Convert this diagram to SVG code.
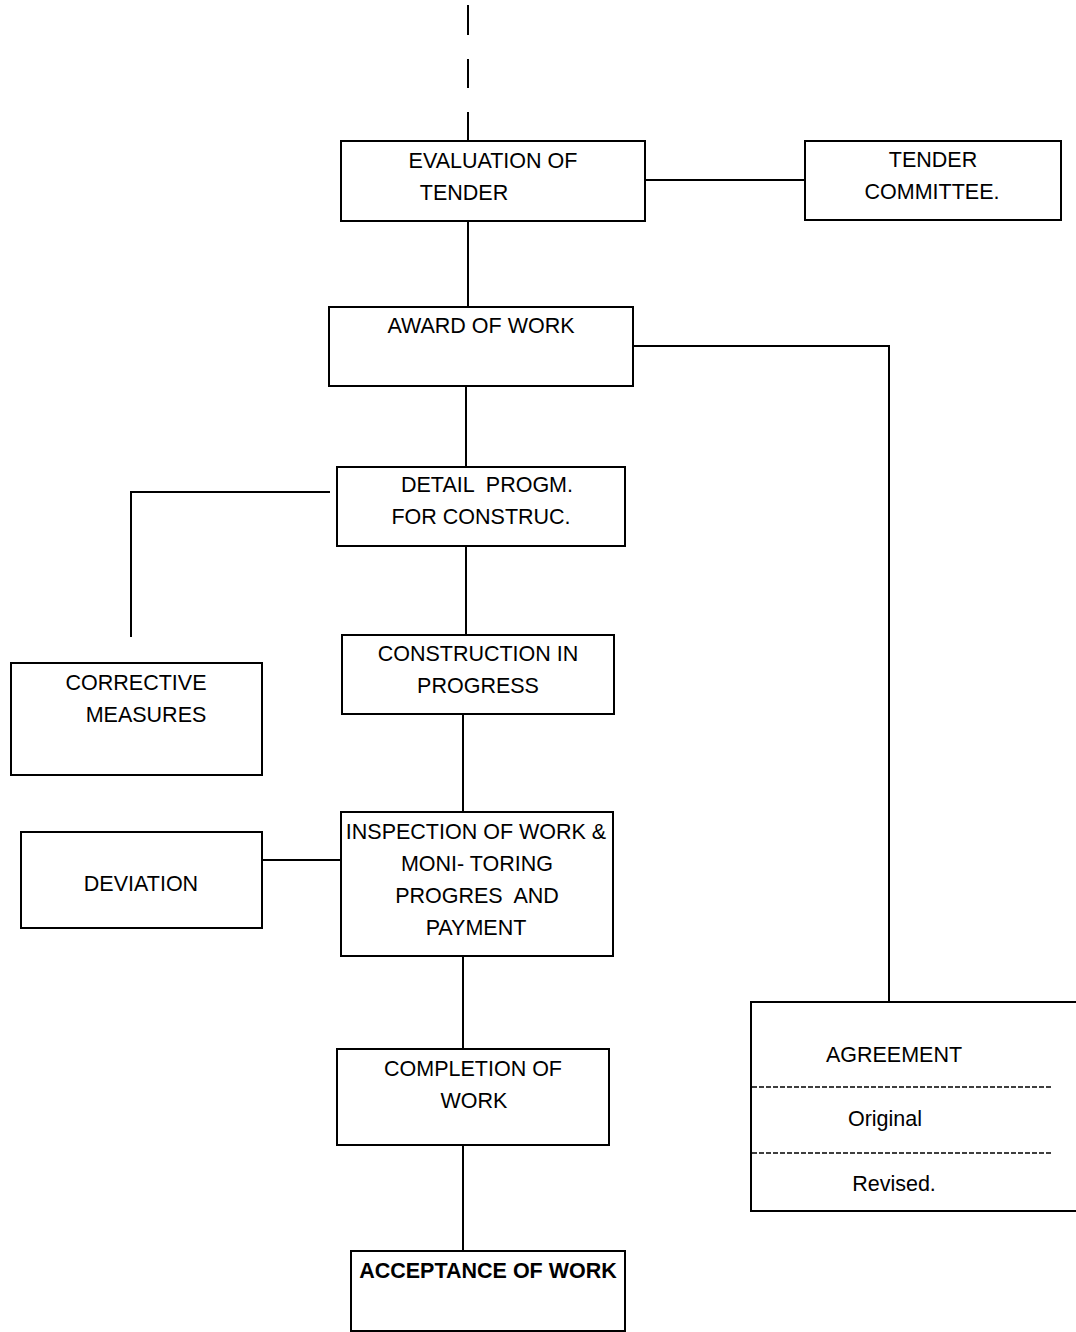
<svg xmlns="http://www.w3.org/2000/svg" width="1076" height="1332" viewBox="0 0 1076 1332">
<style>
.box{fill:#fff;stroke:#000;stroke-width:2}
.ln{fill:none;stroke:#000;stroke-width:2}
.dash{fill:none;stroke:#000;stroke-width:1.5;stroke-dasharray:5,2}
text{font-family:"Liberation Sans",Arial,sans-serif;font-size:21.5px;fill:#000;text-anchor:middle}
.b{font-weight:bold}
</style>
<rect width="1076" height="1332" fill="#fff"/>
<g id="connectors">
<line class="ln" x1="468" y1="5" x2="468" y2="35"/>
<line class="ln" x1="468" y1="59" x2="468" y2="88"/>
<line class="ln" x1="468" y1="112" x2="468" y2="141"/>
<line class="ln" x1="645" y1="180" x2="805" y2="180"/>
<line class="ln" x1="468" y1="221" x2="468" y2="307"/>
<polyline class="ln" points="633,346 889,346 889,1002"/>
<line class="ln" x1="466" y1="386" x2="466" y2="467"/>
<polyline class="ln" points="330,492 131,492 131,637"/>
<line class="ln" x1="466" y1="546" x2="466" y2="635"/>
<line class="ln" x1="463" y1="714" x2="463" y2="812"/>
<line class="ln" x1="262" y1="860" x2="343" y2="860"/>
<line class="ln" x1="463" y1="956" x2="463" y2="1049"/>
<line class="ln" x1="463" y1="1145" x2="463" y2="1251"/>
</g>
<g id="evaluation">
<rect class="box" x="341" y="141" width="304" height="80"/>
<text x="493" y="168">EVALUATION OF</text>
<text x="464" y="200">TENDER</text>
</g>
<g id="tender-committee">
<rect class="box" x="805" y="141" width="256" height="79"/>
<text x="933" y="167">TENDER</text>
<text x="932" y="199">COMMITTEE.</text>
</g>
<g id="award">
<rect class="box" x="329" y="307" width="304" height="79"/>
<text x="481" y="333">AWARD OF WORK</text>
</g>
<g id="detail">
<rect class="box" x="337" y="467" width="288" height="79"/>
<text x="487" y="492" xml:space="preserve">DETAIL  PROGM.</text>
<text x="481" y="524">FOR CONSTRUC.</text>
</g>
<g id="construction">
<rect class="box" x="342" y="635" width="272" height="79"/>
<text x="478" y="661">CONSTRUCTION IN</text>
<text x="478" y="693">PROGRESS</text>
</g>
<g id="corrective">
<rect class="box" x="11" y="663" width="251" height="112"/>
<text x="136" y="690">CORRECTIVE</text>
<text x="146" y="722">MEASURES</text>
</g>
<g id="inspection">
<rect class="box" x="341" y="812" width="272" height="144"/>
<text x="476" y="839">INSPECTION OF WORK &amp;</text>
<text x="477" y="871">MONI- TORING</text>
<text x="477" y="903" xml:space="preserve">PROGRES  AND</text>
<text x="476" y="935">PAYMENT</text>
</g>
<g id="deviation">
<rect class="box" x="21" y="832" width="241" height="96"/>
<text x="141" y="891">DEVIATION</text>
</g>
<g id="completion">
<rect class="box" x="337" y="1049" width="272" height="96"/>
<text x="473" y="1076">COMPLETION OF</text>
<text x="474" y="1108">WORK</text>
</g>
<g id="acceptance">
<rect class="box" x="351" y="1251" width="274" height="80"/>
<text class="b" x="488" y="1278">ACCEPTANCE OF WORK</text>
</g>
<g id="agreement">
<rect class="box" x="751" y="1002" width="330" height="209"/>
<text x="894" y="1062">AGREEMENT</text>
<line class="dash" x1="752" y1="1087" x2="1053" y2="1087"/>
<text x="885" y="1126">Original</text>
<line class="dash" x1="752" y1="1153" x2="1053" y2="1153"/>
<text x="894" y="1191">Revised.</text>
</g>
</svg>
